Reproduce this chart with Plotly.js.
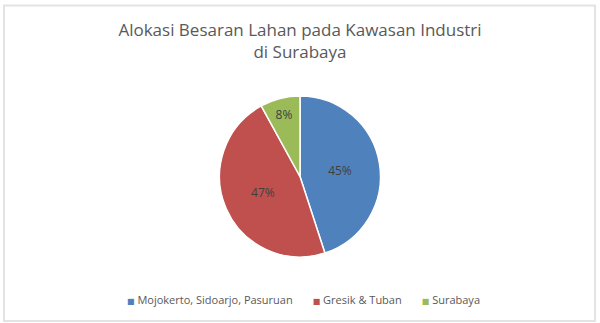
<!DOCTYPE html>
<html>
<head>
<meta charset="utf-8">
<script src="https://cdn.plot.ly/plotly-3.0.1.min.js"></script>
<style>
  html, body { margin: 0; padding: 0; background: #ffffff; }
  #chart { width: 600px; height: 323px; }
</style>
</head>
<body>
<div id="chart"></div>
<script>
// ---- data ----
const categories = ["Mojokerto, Sidoarjo, Pasuruan", "Gresik & Tuban", "Surabaya"];
const shares = [45, 47, 8];
const sliceColors = ["#4F81BD", "#C0504D", "#9BBB59"];
const chartTitle = "Alokasi Besaran Lahan pada Kawasan Industri<br>di Surabaya";

const W = 600, H = 323;
const fontFamily = "'Open Sans', 'Noto Sans', sans-serif";

const pieTrace = {
  type: "pie",
  labels: categories,
  values: shares,
  sort: false,
  direction: "clockwise",
  rotation: 0,
  marker: { colors: sliceColors, line: { color: "#ffffff", width: 1.5 } },
  textinfo: "percent",
  texttemplate: "%{percent:.0%}",
  textposition: "inside",
  insidetextorientation: "horizontal",
  insidetextfont: { family: fontFamily, size: 12, color: "#404040" },
  showlegend: false,
  hoverinfo: "label+percent",
  domain: { x: [219 / W, 381 / W], y: [1 - 257 / H, 1 - 96 / H] }
};

// legend row built from the category names and slice colours
function esc(s) { return s.replace(/&/g, "&amp;").replace(/</g, "&lt;"); }
const legendText = categories.map((name, i) =>
  '<span style="color:' + sliceColors[i] + ';font-size:8px;font-family:DejaVu Sans">■</span> ' + esc(name)
).join("&nbsp;&nbsp;&nbsp;&nbsp;&nbsp;&nbsp;&nbsp;");

const layout = {
  width: W,
  height: H,
  margin: { l: 0, r: 0, t: 0, b: 0 },
  paper_bgcolor: "#ffffff",
  plot_bgcolor: "rgba(0,0,0,0)",
  font: { family: fontFamily, color: "#595959" },
  title: {
    text: chartTitle,
    x: 0.5,
    xanchor: "center",
    xref: "paper",
    y: 1 - 36 / H,
    yref: "container",
    yanchor: "top",
    font: { family: fontFamily, size: 17, color: "#595959" }
  },
  showlegend: false,
  annotations: [{
    xref: "paper", yref: "paper",
    x: 0.5 + 3 / W, xanchor: "center",
    y: 1 - 299 / H, yanchor: "middle",
    showarrow: false,
    text: legendText,
    font: { family: fontFamily, size: 11, color: "#595959" }
  }],
  shapes: [{
    type: "rect",
    xref: "paper", yref: "paper",
    x0: 4 / W, x1: 595 / W,
    y0: 1 - 321 / H, y1: 1 - 5.5 / H,
    line: { color: "#e3e3e3", width: 2 },
    fillcolor: "rgba(0,0,0,0)",
    layer: "below"
  }]
};

Plotly.newPlot("chart", [pieTrace], layout, { displayModeBar: false, staticPlot: true });
</script>
</body>
</html>
